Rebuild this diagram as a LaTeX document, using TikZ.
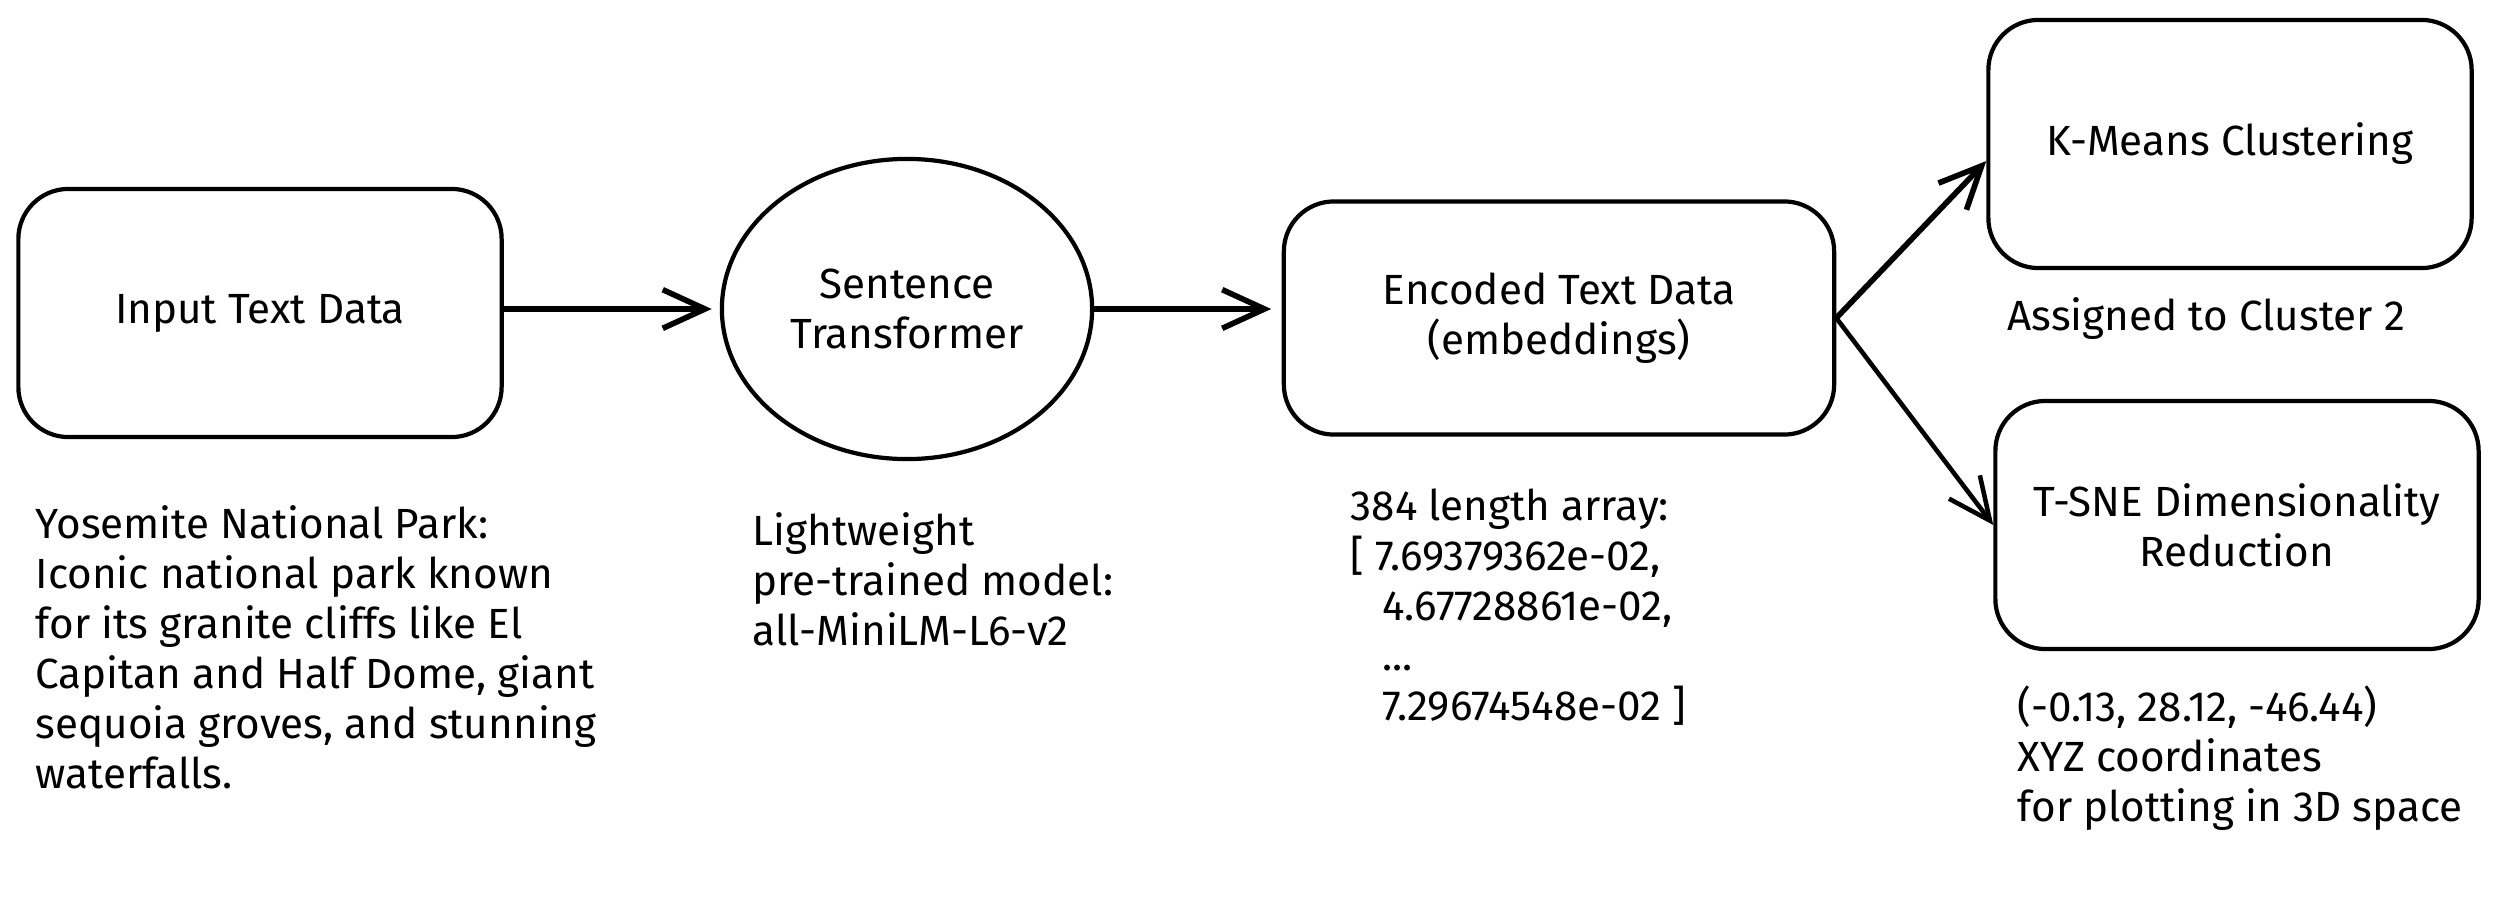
\documentclass[tikz,border=0pt]{standalone}
\usepackage{fontspec}
\setmainfont{Fira Sans}
\usetikzlibrary{arrows.meta, shapes.geometric}
\tikzset{
	stage/.style={draw, line width=1.2pt, rounded corners=0.5cm, minimum width=4.83cm, minimum height=2.48cm, align=center, inner sep=0pt},
	note/.style={anchor=north west, align=left, inner sep=0pt},
	flow/.style={-{Straight Barb[length=12pt, width=11pt]}, line width=1.6pt},
}
\begin{document}
\begin{tikzpicture}[x=0.01cm, y=-0.01cm, font=\fontsize{12}{14.2}\selectfont]
	\useasboundingbox (0,0) rectangle (2505,903);
	\node[stage] (input) at (260,313) {Input Text Data};
	\node[draw, ellipse, line width=1.2pt, minimum width=3.7cm, minimum height=3cm, align=center, inner sep=0pt] (st) at (907,309) {Sentence\\Transformer};
	\node[stage, minimum width=5.5cm, minimum height=2.33cm] (enc) at (1559,318) {Encoded Text Data\\(embeddings)};
	\node[stage] (km) at (2230,144) {K-Means Clustering};
	\node[stage] (tsne) at (2237,525) {T-SNE Dimensionality\\Reduction};
	\draw[flow, shorten >=2.3pt] (input.east |- st.west) -- (st.west);
	\draw[flow, shorten >=3pt] (st.east) -- (st.east -| enc.west);
	\draw[flow] (enc.east) -- (km.184);
	\draw[flow, line width=1.3pt] (enc.east) -- (tsne.west);
	\node[note] (park) at (35,505) {Yosemite National Park:\\Iconic national park known\\for its granite cliffs like El\\Capitan and Half Dome, giant\\sequoia groves, and stunning\\waterfalls.};
	\node[note] (model) at (752,512) {Lightweight\\pre-trained model:\\all-MiniLM-L6-v2};
	\node[note] (array) at (1350,488) {384 length array:\\{[} 7.69379362e-02,\\\hspace*{9pt}4.67728861e-02,\\\hspace*{9pt}...\\\hspace*{9pt}7.29674548e-02 {]}};
	\node[anchor=base west, inner sep=0pt] (cluster) at (2007,330) {Assigned to Cluster 2};
	\node[note] (xyz) at (2017,685) {(-0.13, 28.12, -46.44)\\XYZ coordinates\\for plotting in 3D space};
\end{tikzpicture}
\end{document}
